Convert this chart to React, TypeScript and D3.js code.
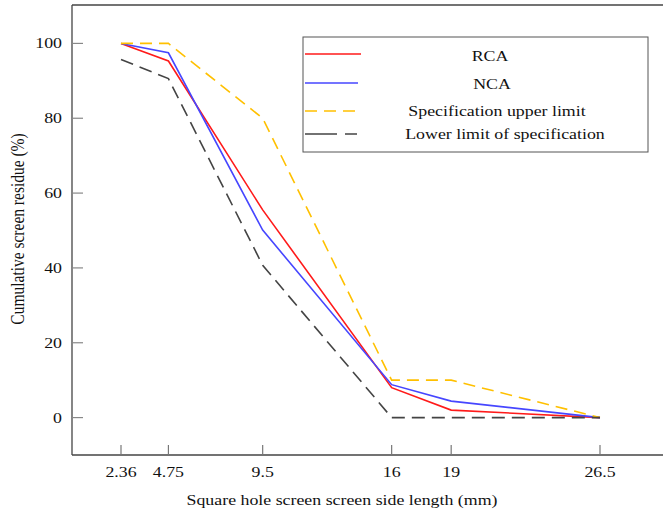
import React from "react";
import * as d3 from "d3";

const sizes = [2.36, 4.75, 9.5, 16, 19, 26.5];
const rca = [100, 95.3, 55.5, 8.0, 2.0, 0];
const nca = [100, 97.5, 50.1, 8.8, 4.4, 0];
const upper = [100, 100, 80, 10, 10, 0];
const lower = [95.7, 90.6, 40.7, 0, 0, 0];
const yTicks = [0, 20, 40, 60, 80, 100];

const seriesList = [
  { name: "RCA", values: rca, color: "#ff1a1a", dash: "" },
  { name: "NCA", values: nca, color: "#4646ff", dash: "" },
  { name: "Specification upper limit", values: upper, color: "#ffc000", dash: "12,7" },
  { name: "Lower limit of specification", values: lower, color: "#444444", dash: "13,7" },
];

const W = 663;
const H = 514;
const left = 72;
const top = 6;
const bottom = 455;
const SX = 1.19;

function T({ x, y, anchor = "middle", children }: { x: number; y: number; anchor?: string; children: React.ReactNode }) {
  return (
    <text
      transform={`translate(${x},${y}) scale(${SX},1)`}
      textAnchor={anchor}
      fontSize={15}
      fill="#111"
    >
      {children}
    </text>
  );
}

export default function App() {
  const x = d3.scaleLinear().domain([2.36, 26.5]).range([121, 600]);
  const y = d3.scaleLinear().domain([-10, 110]).range([bottom, top]);
  const line = d3
    .line<number>()
    .x((_, i) => x(sizes[i]))
    .y((d) => y(d));
  const font = "'Liberation Serif', 'Times New Roman', serif";
  const legendRows = [54, 83, 111, 134];
  const legendText = [61, 89, 116, 139];
  const legendTextX = [490, 492, 497, 505];
  return (
    <svg
      width={W}
      height={H}
      style={{ position: "absolute", left: 0, top: 0, background: "#fff" }}
      fontFamily={font}
    >
      {/* frame */}
      <line x1={left} y1={top - 1} x2={W} y2={top - 1} stroke="#444" strokeWidth={1.3} />
      <line x1={left} y1={top - 1} x2={left} y2={bottom} stroke="#444" strokeWidth={1.3} />
      <line x1={left} y1={bottom} x2={W} y2={bottom} stroke="#444" strokeWidth={1.3} />
      {/* y ticks */}
      {yTicks.map((t) => (
        <g key={t}>
          <line x1={left} x2={left + 11} y1={y(t)} y2={y(t)} stroke="#888" strokeWidth={1.2} />
          <T x={62} y={y(t) + 5} anchor="end">
            {t}
          </T>
        </g>
      ))}
      {/* x ticks */}
      {sizes.map((s) => (
        <g key={s}>
          <line x1={x(s)} x2={x(s)} y1={bottom} y2={bottom - 10} stroke="#777" strokeWidth={1.2} />
          <T x={x(s)} y={477}>
            {s}
          </T>
        </g>
      ))}
      <T x={342} y={505}>
        Square hole screen screen side length (mm)
      </T>
      <text
        transform={`translate(24,229) rotate(-90) scale(1,${SX})`}
        textAnchor="middle"
        fontSize={15.5}
        fill="#111"
      >
        Cumulative screen residue (%)
      </text>
      {/* series */}
      {seriesList.map((s) => (
        <path
          key={s.name}
          d={line(s.values) || ""}
          fill="none"
          stroke={s.color}
          strokeWidth={1.6}
          strokeDasharray={s.dash}
        />
      ))}
      {/* legend */}
      <rect x={303} y={37} width={345} height={115} fill="#fff" stroke="#555" strokeWidth={1} />
      {seriesList.map((s, i) => (
        <g key={s.name}>
          <line
            x1={305}
            x2={i === 0 ? 361 : 358}
            y1={legendRows[i]}
            y2={legendRows[i]}
            stroke={s.color}
            strokeWidth={1.6}
            strokeDasharray={i === 3 ? "32,8,12,8" : s.dash}
          />
          <T x={legendTextX[i]} y={legendText[i]}>
            {s.name}
          </T>
        </g>
      ))}
    </svg>
  );
}
